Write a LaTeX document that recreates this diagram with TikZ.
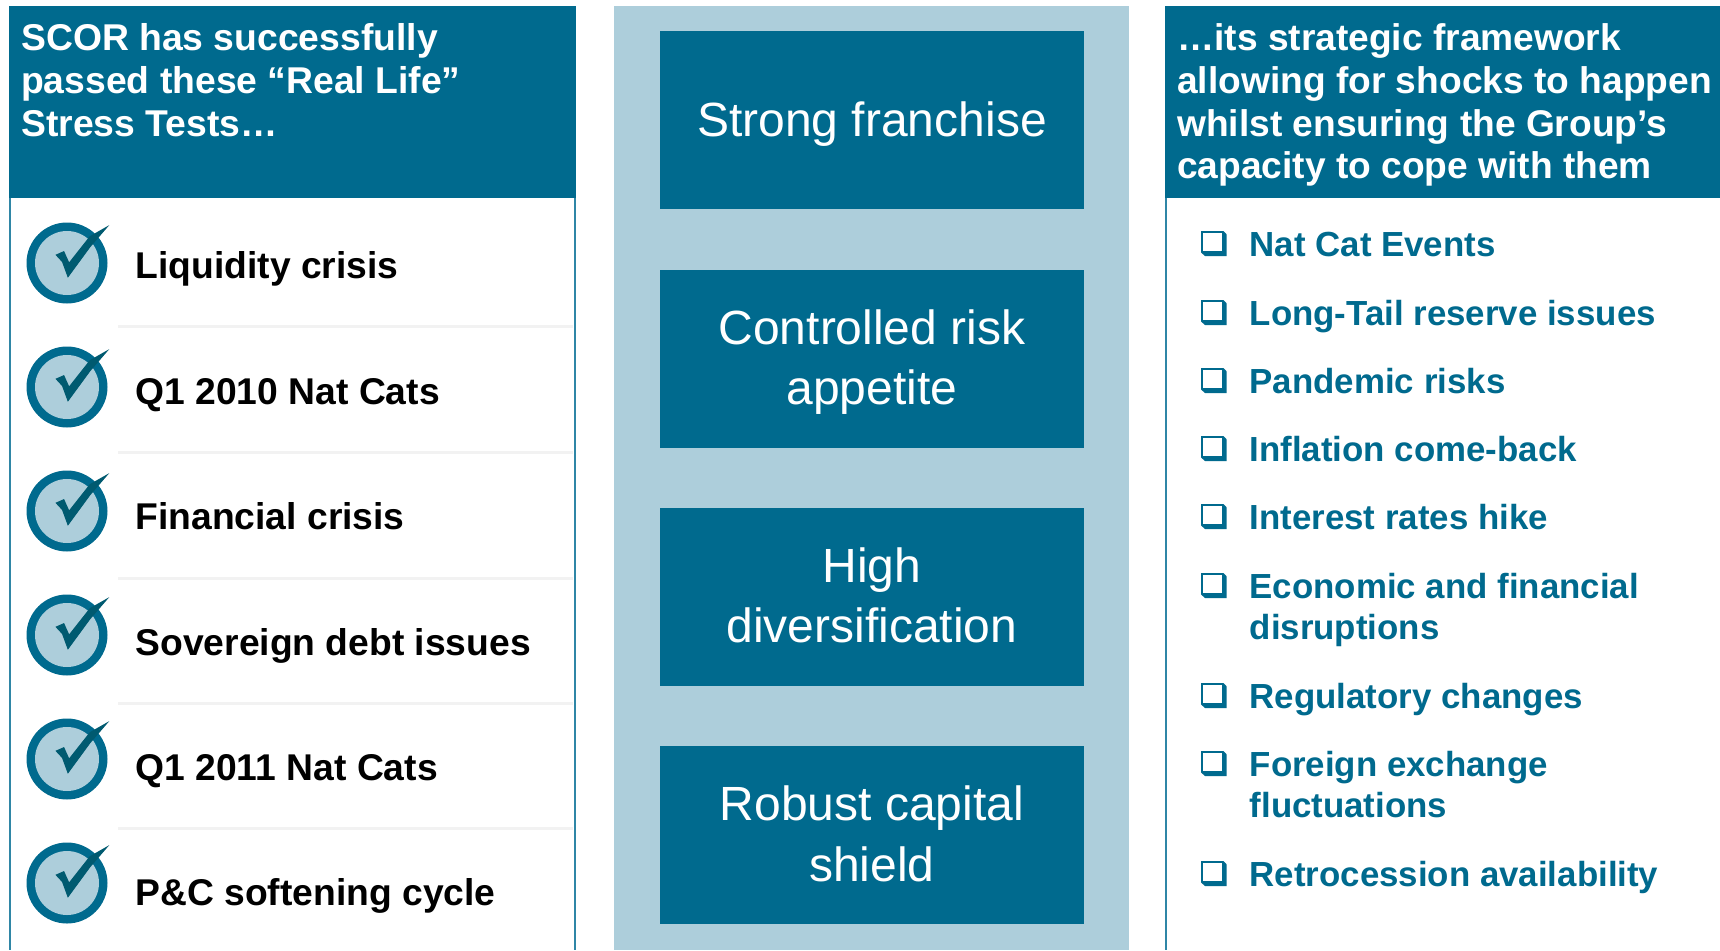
\documentclass[tikz,border=0pt]{standalone}
\usepackage{fontspec}
\setmainfont{Liberation Sans}
\definecolor{scordark}{HTML}{006A8E}
\definecolor{scorlight}{HTML}{ADCEDB}
\definecolor{scorcheck}{HTML}{005A70}
\definecolor{scorline}{HTML}{2F86A6}
\definecolor{scorsep}{HTML}{F2F2F2}
\newcommand{\fsz}[1]{\fontsize{#1}{#1}\selectfont}
\tikzset{
  x=1pt,y=-1pt,
  head/.style={anchor=base west,inner sep=0pt,text=white,font=\fsz{37.3}\bfseries},
  headr/.style={anchor=base west,inner sep=0pt,text=white,font=\fsz{37.15}\bfseries},
  leftitem/.style={anchor=base west,inner sep=0pt,text=black,font=\fsz{37.25}\bfseries},
  rightitem/.style={anchor=base west,inner sep=0pt,text=scordark,font=\fsz{34.85}\bfseries},
  midtext/.style={anchor=base,inner sep=0pt,text=white,font=\fsz{48}},
  midbox/.style={fill=scordark,draw=none},
  sepline/.style={draw=scorsep,line width=3pt},
  tickmark/.pic={
    \fill[scordark] (0,0) circle[radius=40.5];
    \fill[scorlight] (0,0) circle[radius=32];
    \filldraw[scorcheck,line width=1pt,line join=miter] (-10.7,-8) -- (-3.2,-11.3) -- (2,0.3) -- (23,-26.3) -- (40,-36) -- (23,-16.3) -- (1,13.7) -- (-4.5,-1.3) -- cycle;
  },
  cbox/.pic={
    \fill[scordark] (-13,-12.5) -- (9.5,-12.5) -- (12.7,-9) -- (12.7,12.5) -- (-9,12.5) -- (-13,9) -- cycle;
    \fill[white] (-10.7,-10.2) rectangle (8.3,7.2);
  }
}
\begin{document}
\begin{tikzpicture}
\useasboundingbox (0,0) rectangle (1720,950);
\fill[white] (0,0) rectangle (1720,950);
% left panel
\draw[scorline,line width=2pt] (10,6.5) -- (10,950);
\draw[scorline,line width=2pt] (575,6.5) -- (575,950);
\fill[scordark] (9,6) rectangle (576,198);
\node[head] (h1) at (21,51) {SCOR has successfully};
\node[head] (h2) at (21,93.3) {passed these “Real Life”};
\node[head] (h3) at (21,136) {Stress Tests…};
\foreach \y in {326,452,578,703,828} \draw[sepline] (118,\y) -- (573,\y);
\foreach \y in {263,387,511,635,759,883} \pic at (67,\y) {tickmark};
\node[leftitem] (l1) at (135.3,278) {Liquidity crisis};
\node[leftitem] (l2) at (135.3,404) {Q1 2010 Nat Cats};
\node[leftitem] (l3) at (135.3,529) {Financial crisis};
\node[leftitem] (l4) at (135.3,655) {Sovereign debt issues};
\node[leftitem] (l5) at (135.3,780) {Q1 2011 Nat Cats};
\node[leftitem] (l6) at (135.3,905) {P\&C softening cycle};
% middle
\fill[scorlight] (614,6.5) rectangle (1129,950);
\fill[midbox] (659.5,31) rectangle (1084,208.5);
\fill[midbox] (659.5,270) rectangle (1084,447.6);
\fill[midbox] (659.5,508) rectangle (1084,686);
\fill[midbox] (659.5,746) rectangle (1084,924);
\node[midtext] (m1) at (872,136) {Strong franchise};
\node[midtext] (m2a) at (872,344) {Controlled risk};
\node[midtext] (m2b) at (872,404) {appetite};
\node[midtext] (m3a) at (872,582) {High};
\node[midtext] (m3b) at (872,642) {diversification};
\node[midtext] (m4a) at (872,820) {Robust capital};
\node[midtext] (m4b) at (872,881) {shield};
% right panel
\draw[scorline,line width=2pt] (1166,6.5) -- (1166,950);
\fill[scordark] (1165,6) rectangle (1720,198);
\node[headr] (r1) at (1177,51) {…its strategic framework};
\node[headr] (r2) at (1177,93.3) {allowing for shocks to happen};
\node[headr] (r3) at (1177,136) {whilst ensuring the Group’s};
\node[headr] (r4) at (1177,178.2) {capacity to cope with them};
\foreach \y in {256,325,393,461,529,598,708,776,886} \pic at (1214,\y-12.5) {cbox};
\node[rightitem] (i1) at (1249.5,256) {Nat Cat Events};
\node[rightitem] (i2) at (1249.5,325) {Long-Tail reserve issues};
\node[rightitem] (i3) at (1249.5,393) {Pandemic risks};
\node[rightitem] (i4) at (1249.5,461) {Inflation come-back};
\node[rightitem] (i5) at (1249.5,529) {Interest rates hike};
\node[rightitem] (i6a) at (1249.5,598) {Economic and financial};
\node[rightitem] (i6b) at (1249.5,639) {disruptions};
\node[rightitem] (i7) at (1249.5,708) {Regulatory changes};
\node[rightitem] (i8a) at (1249.5,776) {Foreign exchange};
\node[rightitem] (i8b) at (1249.5,817) {fluctuations};
\node[rightitem] (i9) at (1249.5,886) {Retrocession availability};
\end{tikzpicture}
\end{document}
